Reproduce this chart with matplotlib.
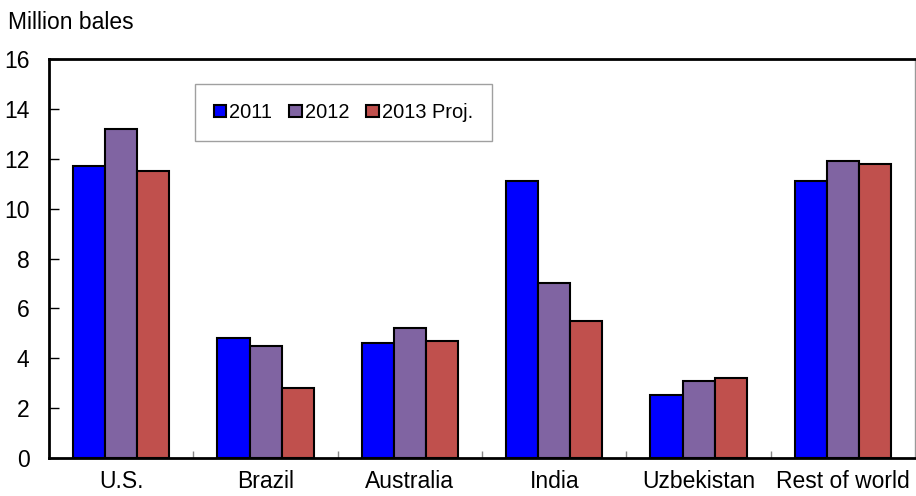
import matplotlib
matplotlib.use("Agg")
import matplotlib.pyplot as plt
import numpy as np

# values (million bales)
countries = ["U.S.", "Brazil", "Australia", "India", "Uzbekistan", "Rest of world"]
y2011 = [11.7, 4.8, 4.6, 11.1, 2.5, 11.1]
y2012 = [13.2, 4.5, 5.2, 7.0, 3.1, 11.9]
y2013 = [11.5, 2.8, 4.7, 5.5, 3.2, 11.8]
series_labels = ["2011", "2012", "2013 Proj."]
colors = ["#0000FF", "#8064A2", "#C0504D"]

plt.rcParams["font.family"] = ["Liberation Sans", "DejaVu Sans"]
FS = 16.5

fig = plt.figure(figsize=(9.16, 4.96), dpi=100)
ax = fig.add_axes([0.0535, 0.0772, 0.9455, 0.8032])

x = np.arange(len(countries))
w = 0.222
for i, (vals, lab, c) in enumerate(zip([y2011, y2012, y2013], series_labels, colors)):
    ax.bar(x + (i - 1) * w, vals, w, color=c, edgecolor="black", linewidth=1.5,
           label=lab, zorder=3)

ax.set_xlim(-0.5, len(countries) - 0.5)
ax.set_ylim(0, 16)
ax.set_yticks(range(0, 17, 2))
ax.tick_params(axis="y", direction="in", length=7, width=1, labelsize=FS, pad=14)

ax.set_xticks(x)
ax.set_xticklabels(countries)
ax.tick_params(axis="x", which="major", length=0, labelsize=FS, pad=9)
ax.set_xticks(np.arange(0.5, len(countries) - 0.5), minor=True)
ax.tick_params(axis="x", which="minor", direction="in", length=5, width=1, color="#888888")

for s in ["left", "top", "bottom"]:
    ax.spines[s].set_linewidth(2)
    ax.spines[s].set_color("black")
ax.spines["right"].set_linewidth(1)
ax.spines["right"].set_color("#999999")

leg = ax.legend(loc="upper left", bbox_to_anchor=(0.1686, 0.938), borderaxespad=0,
                ncol=3, fontsize=14.4, frameon=True, fancybox=False,
                handlelength=0.62, handleheight=0.62, handletextpad=0.15,
                columnspacing=0.85, borderpad=0.95)
leg.get_frame().set_edgecolor("#888888")
leg.get_frame().set_linewidth(1)

fig.text(0.009, 0.9415, "Million bales", fontsize=FS, va="baseline", ha="left")

fig.savefig("out.png", dpi=100)
